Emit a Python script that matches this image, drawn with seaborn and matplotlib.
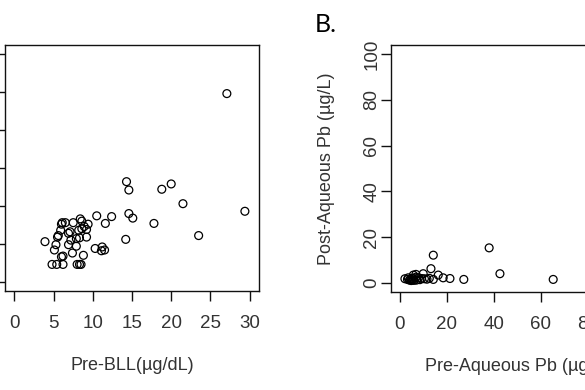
import matplotlib
matplotlib.use("Agg")
import matplotlib.pyplot as plt
import seaborn as sns

# Panel A: pre vs post blood lead level
pre_bll = [27.1, 29.4, 14.3, 14.6, 18.8, 20.0, 21.5, 23.5, 17.8, 14.6, 15.1, 14.2,
           10.5, 12.4, 11.6, 10.3, 11.2, 11.1, 11.5, 3.9,
           4.8, 5.4, 6.2, 8.0, 8.3, 8.5, 6.0, 6.2, 8.8, 7.4, 5.1, 5.3, 6.9, 7.9,
           5.5, 5.6, 7.2, 8.3, 9.2, 5.9, 6.9, 7.1, 6.0, 6.1, 6.5, 7.5, 8.4, 8.6,
           8.2, 8.6, 9.2, 9.4, 8.9, 7.9]
post_bll = [24.8, 9.3, 13.2, 12.1, 12.2, 12.9, 10.3, 6.1, 7.7, 9.0, 8.4, 5.6,
            8.7, 8.6, 7.7, 4.4, 4.6, 4.1, 4.2, 5.3,
            2.3, 2.3, 2.3, 2.3, 2.3, 2.3, 3.3, 3.4, 3.5, 3.8, 4.2, 4.9, 4.9, 4.7,
            5.9, 6.1, 5.5, 5.8, 5.9, 6.8, 6.4, 6.6, 7.6, 7.8, 7.8, 7.8, 8.3, 8.0,
            6.8, 7.0, 6.9, 7.6, 7.3, 5.7]

# Panel B: pre vs post aqueous lead
pre_aq = [2.1, 3.5, 4.5, 5.7, 6.8, 7.8, 9.2, 10.4, 5.7, 6.8, 9.9, 13.2, 14.2,
          16.3, 18.4, 21.3, 27.2, 38.0, 42.6, 65.3, 14.2,
          4.0, 4.8, 5.5, 6.0, 3.2, 5.0, 7.0, 8.5, 11.5, 12.5]
post_aq = [1.8, 2.2, 1.5, 1.9, 2.5, 2.2, 1.9, 1.8, 3.4, 3.7, 4.0, 6.2, 12.1,
           3.4, 2.2, 1.9, 1.5, 15.3, 4.0, 1.5, 1.5,
           1.2, 1.0, 1.3, 1.1, 1.5, 2.0, 1.2, 1.4, 1.6, 2.0]

sns.set_style("ticks")
plt.rcParams['font.family'] = ['Liberation Sans', 'DejaVu Sans']

W, H = 585, 390
fig = plt.figure(figsize=(W / 100, H / 100), dpi=100)
fig.patch.set_facecolor("white")

txt = "#333333"


def px_axes(x0, y0, x1, y1):
    return fig.add_axes([x0 / W, 1 - y1 / H, (x1 - x0) / W, (y1 - y0) / H])


def style(ax):
    for s in ax.spines.values():
        s.set_visible(True)
        s.set_color("#111111")
        s.set_linewidth(1.0)
    ax.tick_params(direction="out", length=7.5, width=1.0, color="#111111",
                   labelsize=13.5, labelcolor=txt)


scat = dict(marker="o", s=32, facecolor="none", edgecolor="black",
            linewidth=0.9, legend=False)

# left panel (left edge cropped in the original)
ax1 = px_axes(5, 45, 259, 291)
sns.scatterplot(x=pre_bll, y=post_bll, ax=ax1, **scat)
ax1.set_xlim(-1.2, 31.2)
ax1.set_ylim(-1.2, 31.2)
ax1.set_xticks(range(0, 31, 5))
ax1.set_yticks(range(0, 31, 5))
style(ax1)
ax1.tick_params(axis="x", pad=10)
ax1.tick_params(axis="y", pad=8)
ax1.set_xlabel("Pre-BLL(µg/dL)", fontsize=13, color=txt, labelpad=18)
ax1.set_ylabel("Post-BLL(µg/dL)", fontsize=13, color=txt)

# right panel (right side cropped)
ax2 = px_axes(390.6, 45, 644, 292)
sns.scatterplot(x=pre_aq, y=post_aq, ax=ax2, **scat)
ax2.set_xlim(-4, 104)
ax2.set_ylim(-4, 104)
ax2.set_xticks(range(0, 101, 20))
ax2.set_yticks(range(0, 101, 20))
style(ax2)
ax2.tick_params(axis="x", pad=10)
ax2.tick_params(axis="y", pad=0)
for lab in ax2.get_yticklabels():
    lab.set_rotation(90)
    lab.set_va("center")
ax2.set_xlabel("Pre-Aqueous Pb (µg/L)", fontsize=13, color=txt, labelpad=18)
ax2.set_ylabel("Post-Aqueous Pb (µg/L)", fontsize=13, color=txt, labelpad=20)

fig.text(326 / W, 1 - 24 / H, "B.", fontsize=18, family=["Lato", "DejaVu Sans"],
         ha="center", va="center", color="black")

fig.savefig("out.png", dpi=100)
